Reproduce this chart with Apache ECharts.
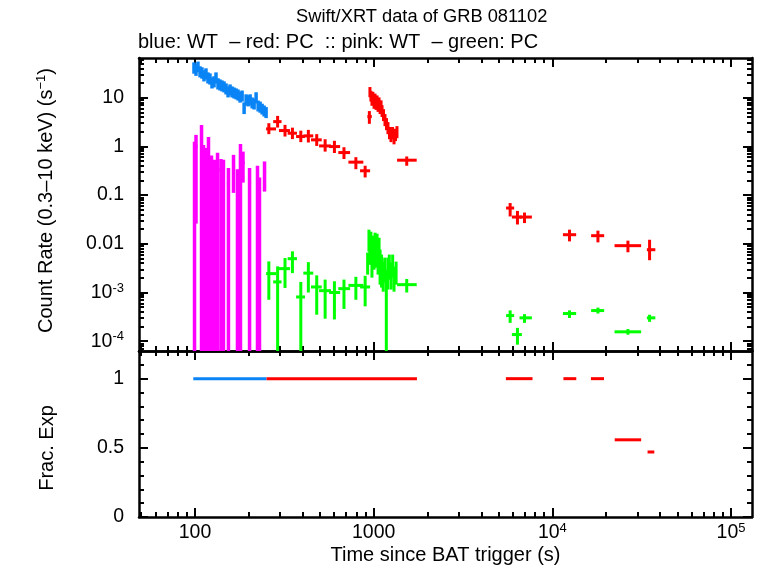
<!DOCTYPE html>
<html>
<head>
<meta charset="utf-8">
<title>Swift/XRT data of GRB 081102</title>
<script src="https://cdn.jsdelivr.net/npm/echarts@6.0.0/dist/echarts.min.js"></script>
<style>
html, body { margin: 0; padding: 0; background: #fff; }
#chart { width: 761px; height: 568px; }
</style>
</head>
<body>
<div id="chart"></div>
<script>
// rows: [t, tLo, tHi, rate, rateLo, rateHi]  (rateLo 0 = bar runs off the bottom)
var blueWT = [
    [98.7, 97.4, 100.0, 40.6, 31, 53],
    [101.3, 100.0, 102.6, 37, 28, 48],
    [103.9, 102.6, 105.3, 42.6, 33, 55],
    [106.7, 105.3, 108.0, 33.6, 26, 44],
    [109.4, 108.0, 110.8, 32.1, 24.5, 42],
    [112.3, 110.8, 113.7, 27.9, 21.5, 36.5],
    [115.2, 113.7, 116.7, 30.6, 23.5, 40],
    [118.2, 116.7, 119.7, 25.4, 19.5, 33],
    [121.3, 119.7, 122.9, 24.2, 18.5, 31.5],
    [124.5, 122.9, 126.1, 20, 15.4, 26],
    [127.8, 126.1, 129.4, 21, 16.2, 27.5],
    [131.1, 129.4, 132.8, 25.4, 19.5, 33],
    [134.5, 132.8, 136.2, 19.1, 14.7, 25],
    [138.0, 136.2, 139.8, 18.2, 14, 23.7],
    [141.6, 139.8, 143.5, 17.4, 13.4, 22.6],
    [145.4, 143.5, 147.3, 16.6, 12.8, 21.6],
    [149.2, 147.3, 151.1, 15.1, 11.6, 19.6],
    [153.1, 151.1, 155.1, 13.1, 10.1, 17],
    [157.1, 155.1, 159.1, 14.4, 11.1, 18.7],
    [161.2, 159.1, 163.3, 13.1, 10.1, 17],
    [165.4, 163.3, 167.6, 12.5, 9.6, 16.2],
    [169.8, 167.6, 172.0, 11.9, 9.2, 15.5],
    [174.2, 172.0, 176.5, 11.3, 8.7, 14.7],
    [178.8, 176.5, 181.1, 10.3, 7.9, 13.4],
    [183.5, 181.1, 185.9, 10.8, 8.3, 14],
    [188.3, 185.9, 190.7, 6.1, 4.6, 8.0],
    [193.2, 190.7, 195.7, 9.0, 6.9, 11.7],
    [198.3, 195.7, 200.9, 8.6, 6.6, 11.2],
    [203.5, 200.9, 206.1, 9.0, 6.9, 11.7],
    [208.8, 206.1, 211.5, 7.8, 6.0, 10.1],
    [214.2, 211.5, 217.0, 7.4, 5.7, 9.6],
    [219.8, 217.0, 222.7, 9.9, 7.6, 12.9],
    [225.6, 222.7, 228.5, 6.7, 5.2, 8.7],
    [231.5, 228.5, 234.5, 6.4, 4.9, 8.3],
    [237.5, 234.5, 240.6, 5.8, 4.5, 7.5],
    [243.7, 240.6, 246.8, 5.3, 4.1, 6.9],
    [250.0, 246.8, 253.2, 4.9, 3.8, 6.4]
];

var redPC = [
    [259, 250, 284, 2.28, 1.78, 2.99],
    [290, 274, 305, 3.22, 2.43, 4.22],
    [319, 295, 340, 2.11, 1.59, 2.76],
    [351, 330, 372, 1.86, 1.41, 2.42],
    [391, 368, 413, 1.59, 1.22, 2.10],
    [431, 404, 459, 1.64, 1.20, 2.18],
    [480, 446, 512, 1.36, 1.02, 1.78],
    [535, 495, 577, 1.02, 0.78, 1.40],
    [603, 563, 649, 0.99, 0.73, 1.30],
    [682, 634, 738, 0.746, 0.55, 0.96],
    [795, 722, 875, 0.474, 0.34, 0.60],
    [896, 839, 955, 0.315, 0.23, 0.40],
    [946, 922, 976, 4.08, 2.9, 5.3],
    [953, 947, 959, 13.1, 10.2, 16.5],
    [965, 959, 971, 10.8, 8.3, 13.8],
    [978, 971, 984, 8.97, 6.8, 11.6],
    [990, 984, 997, 10.3, 7.9, 13.2],
    [1005, 997, 1012, 7.79, 5.9, 10.1],
    [1018, 1012, 1025, 9.4, 7.2, 12.1],
    [1031, 1025, 1038, 7.43, 5.6, 9.7],
    [1045, 1038, 1052, 8.55, 6.5, 11.1],
    [1058, 1052, 1065, 6.76, 5.1, 8.8],
    [1072, 1065, 1079, 7.79, 5.9, 10.1],
    [1086, 1079, 1093, 6.15, 4.6, 8.0],
    [1100, 1093, 1107, 6.76, 5.1, 8.8],
    [1114, 1107, 1125, 5.34, 4.0, 7.0],
    [1135, 1125, 1146, 4.42, 3.3, 5.8],
    [1157, 1146, 1168, 3.49, 2.6, 4.6],
    [1180, 1168, 1191, 2.89, 2.15, 3.8],
    [1202, 1191, 1214, 2.39, 1.78, 3.15],
    [1226, 1214, 1238, 1.89, 1.4, 2.5],
    [1250, 1238, 1262, 1.64, 1.22, 2.2],
    [1275, 1262, 1288, 1.89, 1.4, 2.5],
    [1300, 1288, 1312, 1.49, 1.1, 2.0],
    [1325, 1312, 1338, 1.72, 1.28, 2.3],
    [1350, 1338, 1362, 1.98, 1.47, 2.6],
    [1531, 1352, 1741, 0.52, 0.40, 0.62],
    [5804, 5508, 6113, 0.0542, 0.0364, 0.0686],
    [6377, 5935, 6750, 0.0354, 0.0249, 0.0473],
    [6985, 6550, 7680, 0.0354, 0.0266, 0.0438],
    [12470, 11460, 13590, 0.01536, 0.0112, 0.0195],
    [17990, 16480, 19500, 0.01466, 0.0107, 0.0186],
    [26480, 22280, 31400, 0.00915, 0.0067, 0.0116],
    [35000, 33800, 37700, 0.00756, 0.0046, 0.0121]
];

var pinkWT = [
    [99.4, 97.5, 101.3, 0.90, 0, 1.25],
    [101.3, 99.4, 103.2, 0.99, 0.026, 1.72],
    [108.8, 106.7, 110.9, 1.72, 0, 2.75],
    [111.6, 109.4, 113.8, 0.85, 0, 1.07],
    [115.2, 113.0, 117.5, 0.77, 0, 0.93],
    [119.0, 116.7, 121.4, 0.85, 0, 1.56],
    [123.7, 121.3, 126.1, 0.42, 0, 0.65],
    [128.6, 126.1, 131.1, 0.33, 0, 0.53],
    [133.7, 131.1, 136.3, 0.48, 0, 0.74],
    [139.8, 137.1, 142.5, 0.33, 0, 0.55],
    [144.3, 141.5, 147.2, 0.30, 0, 0.53],
    [153.9, 150.9, 156.9, 0.17, 0, 0.36],
    [164.3, 161.1, 167.6, 0.385, 0.111, 0.67],
    [172.9, 169.5, 176.3, 0.17, 0, 0.34],
    [179.7, 176.2, 183.3, 0.44, 0, 1.12],
    [185.6, 182.0, 189.3, 0.46, 0.18, 0.78],
    [202.0, 198.1, 206.0, 0.18, 0, 0.36],
    [223.8, 219.5, 228.2, 0.20, 0, 0.40],
    [229.6, 225.1, 234.1, 0.145, 0, 0.23],
    [245.0, 240.2, 249.9, 0.30, 0.118, 0.49]
];

var greenPC = [
    [259, 250, 284, 0.00244, 0.00071, 0.00435],
    [290, 274, 305, 0.00165, 0, 0.00344],
    [319, 295, 340, 0.00309, 0.00124, 0.0051],
    [351, 330, 372, 0.00495, 0.0025, 0.0070],
    [391, 368, 413, 0.00081, 0, 0.00165],
    [431, 404, 459, 0.0025, 0.0010, 0.0042],
    [480, 446, 512, 0.0013, 0.00035, 0.00225],
    [535, 495, 577, 0.00109, 0.00029, 0.00184],
    [603, 563, 649, 0.0010, 0.00028, 0.0017],
    [682, 634, 738, 0.0012, 0.00046, 0.00184],
    [795, 722, 875, 0.0014, 0.00071, 0.0021],
    [896, 839, 955, 0.0013, 0.00052, 0.0022],
    [925, 919, 931, 0.0043, 0.00233, 0.0066],
    [941, 935, 947, 0.0121, 0.0069, 0.0195],
    [953, 947, 959, 0.0076, 0.0037, 0.0133],
    [965, 959, 971, 0.0105, 0.0052, 0.0177],
    [978, 971, 984, 0.0043, 0.00202, 0.0076],
    [990, 984, 997, 0.0083, 0.0043, 0.0147],
    [1005, 997, 1012, 0.0060, 0.00294, 0.0105],
    [1018, 1012, 1025, 0.0096, 0.0048, 0.0169],
    [1031, 1025, 1038, 0.0066, 0.00324, 0.0121],
    [1045, 1038, 1052, 0.0083, 0.0043, 0.0161],
    [1058, 1052, 1065, 0.0052, 0.00233, 0.0096],
    [1072, 1065, 1079, 0.0076, 0.00356, 0.0133],
    [1086, 1079, 1093, 0.0043, 0.00145, 0.0076],
    [1107, 1096, 1118, 0.00294, 0.00126, 0.0060],
    [1131, 1118, 1142, 0.00233, 0.00104, 0.0043],
    [1153, 1142, 1165, 0.00324, 0.0016, 0.0052],
    [1177, 1165, 1188, 0.0016, 0, 0.00294],
    [1200, 1188, 1211, 0.00294, 0.00115, 0.0052],
    [1223, 1211, 1237, 0.0043, 0.00184, 0.0060],
    [1252, 1237, 1264, 0.00233, 0.00115, 0.0041],
    [1277, 1264, 1288, 0.0039, 0.00202, 0.0060],
    [1300, 1288, 1317, 0.00184, 0.00104, 0.0034],
    [1335, 1317, 1352, 0.00268, 0.00145, 0.0043],
    [1531, 1352, 1741, 0.00145, 0.0010, 0.0019],
    [5804, 5508, 6113, 0.000336, 0.000238, 0.00043],
    [6377, 5935, 6750, 0.000137, 0.000085, 0.000188],
    [6985, 6550, 7680, 0.000302, 0.000238, 0.00036],
    [12470, 11460, 13590, 0.00037, 0.0003, 0.00043],
    [17990, 16480, 19500, 0.000426, 0.00037, 0.00049],
    [26480, 22280, 31400, 0.000156, 0.000136, 0.000178],
    [35000, 33800, 37700, 0.000302, 0.00025, 0.00035]
];

// fractional exposure: [tStart, tStop, frac]
var fracWT = [[97.8, 251.4, 1]];
var fracPC = [
    [251.4, 1746, 1],
    [5495, 7745, 1],
    [11530, 13610, 1],
    [16440, 19450, 1],
    [22330, 31400, 0.558],
    [34100, 37200, 0.47]
];

// axes
var X_MIN = 48.6, X_MAX = 1.31e5;
var Y_MIN = 6.3e-5, Y_MAX = 65.1;
var xMajor = [100, 1000, 10000, 100000];
var xMajorLabels = ['100', '1000', '10{s|4}', '10{s|5}'];
var yMajor = [0.0001, 0.001, 0.01, 0.1, 1, 10];
var yMajorLabels = ['10{s|-4}', '10{s|-3}', '0.01', '0.1', '1', '10'];
var fMajor = [0, 0.5, 1];
var fMajorLabels = ['0', '0.5', '1'];
var fMinor = [0.1, 0.2, 0.3, 0.4, 0.6, 0.7, 0.8, 0.9, 1.1];
var minorSteps = [2, 3, 4, 5, 6, 7, 8, 9];

function logMinors(decades, lo, hi) {
    var out = [];
    decades.forEach(function (d) {
        minorSteps.forEach(function (m) {
            var v = m * d;
            if (v > lo && v < hi) out.push(v);
        });
    });
    return out;
}
var xMinor = logMinors([10, 100, 1000, 10000, 100000], X_MIN, X_MAX);
var yMinor = logMinors([0.00001, 0.0001, 0.001, 0.01, 0.1, 1, 10], Y_MIN, Y_MAX);

var FONT = 'Liberation Sans';
var LBL = 19.5;
var supRich = { s: { fontSize: 13, fontFamily: FONT, color: '#000', verticalAlign: 'top', lineHeight: 13 } };

function pickLabel(vals, labels, log) {
    return function (v) {
        for (var i = 0; i < vals.length; i++) {
            var a = log ? Math.log10(v) : v, b = log ? Math.log10(vals[i]) : vals[i];
            if (Math.abs(a - b) < 1e-6) return labels[i];
        }
        return '';
    };
}

function mkAxis(type, grid, pos, min, max, ticks, len, line, label) {
    return {
        type: type, gridIndex: grid, position: pos, min: min, max: max,
        axisLine: { show: line, onZero: false, lineStyle: { color: '#000', width: 2.5 } },
        axisTick: { show: true, inside: true, length: len, customValues: ticks, lineStyle: { color: '#000', width: 2 } },
        axisLabel: label || { show: false },
        splitLine: { show: false },
        minorTick: { show: false },
        minorSplitLine: { show: false }
    };
}

var xAxes = [
    mkAxis('log', 0, 'bottom', X_MIN, X_MAX, xMajor, 9, true),
    mkAxis('log', 0, 'bottom', X_MIN, X_MAX, xMinor, 5, false),
    mkAxis('log', 0, 'top', X_MIN, X_MAX, xMajor, 9, true),
    mkAxis('log', 0, 'top', X_MIN, X_MAX, xMinor, 5, false),
    mkAxis('log', 1, 'bottom', X_MIN, X_MAX, xMajor, 9, true, {
        show: true, customValues: xMajor, margin: 5, fontSize: LBL, fontFamily: FONT, color: '#000',
        lineHeight: 22, rich: supRich, formatter: pickLabel(xMajor, xMajorLabels, true)
    }),
    mkAxis('log', 1, 'bottom', X_MIN, X_MAX, xMinor, 5, false),
    mkAxis('log', 1, 'top', X_MIN, X_MAX, xMajor, 9, true),
    mkAxis('log', 1, 'top', X_MIN, X_MAX, xMinor, 5, false)
];
xAxes[4].name = 'Time since BAT trigger (s)';
xAxes[4].nameLocation = 'middle';
xAxes[4].nameGap = 28;
xAxes[4].nameTextStyle = { fontSize: 20, fontFamily: FONT, color: '#000' };

var yAxes = [
    mkAxis('log', 0, 'left', Y_MIN, Y_MAX, yMajor, 9, true, {
        show: true, customValues: yMajor, margin: 15, fontSize: LBL, fontFamily: FONT, color: '#000',
        lineHeight: 22, rich: supRich, formatter: pickLabel(yMajor, yMajorLabels, true)
    }),
    mkAxis('log', 0, 'left', Y_MIN, Y_MAX, yMinor, 5, false),
    mkAxis('log', 0, 'right', Y_MIN, Y_MAX, yMajor, 9, true),
    mkAxis('log', 0, 'right', Y_MIN, Y_MAX, yMinor, 5, false),
    mkAxis('value', 1, 'left', 0, 1.2, fMajor, 9, true, {
        show: true, customValues: fMajor, margin: 15, fontSize: LBL, fontFamily: FONT, color: '#000',
        formatter: pickLabel(fMajor, fMajorLabels, false)
    }),
    mkAxis('value', 1, 'left', 0, 1.2, fMinor, 5, false),
    mkAxis('value', 1, 'right', 0, 1.2, fMajor, 9, true),
    mkAxis('value', 1, 'right', 0, 1.2, fMinor, 5, false)
];
yAxes[0].name = 'Count Rate (0.3\u201310 keV) (s{s|\u22121})';
yAxes[0].nameLocation = 'middle';
yAxes[0].nameGap = 82;
yAxes[0].nameRotate = 90;
yAxes[0].nameTextStyle = { fontSize: 20, fontFamily: FONT, color: '#000', lineHeight: 22, rich: supRich, padding: [0, 0, 0, 8] };
yAxes[4].name = 'Frac. Exp';
yAxes[4].nameLocation = 'middle';
yAxes[4].nameGap = 82;
yAxes[4].nameRotate = 90;
yAxes[4].nameTextStyle = { fontSize: 20, fontFamily: FONT, color: '#000', padding: [0, 28, 0, 0] };

function errorBars(color, width) {
    return function (params, api) {
        var cs = params.coordSys;
        var top = cs.y, bottom = cs.y + cs.height;
        var t = api.value(0), r = api.value(3), lo = api.value(4), hi = api.value(5);
        var p = api.coord([t, r]);
        var pl = api.coord([api.value(1), r]);
        var pr = api.coord([api.value(2), r]);
        var yHi = Math.max(api.coord([t, hi])[1], top);
        var yLo = lo > 0 ? Math.min(api.coord([t, lo])[1], bottom) : bottom;
        var st = { stroke: color, lineWidth: width };
        return {
            type: 'group',
            children: [
                { type: 'line', shape: { x1: p[0], y1: yHi, x2: p[0], y2: yLo }, style: st },
                { type: 'line', shape: { x1: pl[0], y1: p[1], x2: pr[0], y2: p[1] }, style: st }
            ]
        };
    };
}

function expBars(color) {
    return function (params, api) {
        var a = api.coord([api.value(0), api.value(2)]);
        var b = api.coord([api.value(1), api.value(2)]);
        return { type: 'line', shape: { x1: a[0], y1: a[1], x2: b[0], y2: b[1] }, style: { stroke: color, lineWidth: 3 } };
    };
}

function rateSeries(data, color, width) {
    return { type: 'custom', xAxisIndex: 0, yAxisIndex: 0, data: data, encode: { x: 0, y: 3 },
             renderItem: errorBars(color, width), silent: true };
}
function expSeries(data, color) {
    return { type: 'custom', xAxisIndex: 4, yAxisIndex: 4, data: data, encode: { x: 0, y: 2 },
             renderItem: expBars(color), silent: true };
}

var chart = echarts.init(document.getElementById('chart'));
chart.setOption({
    animation: false,
    backgroundColor: '#fff',
    textStyle: { fontFamily: FONT },
    title: [
        { text: 'Swift/XRT data of GRB 081102', left: 291, top: 3,
          textStyle: { fontSize: 18.3, fontWeight: 'normal', fontFamily: FONT, color: '#000' } },
        { text: 'blue: WT  \u2013 red: PC  :: pink: WT  \u2013 green: PC', left: 133, top: 27,
          textStyle: { fontSize: 20, fontWeight: 'normal', fontFamily: FONT, color: '#000' } }
    ],
    grid: [
        { left: 139, top: 58, width: 613, height: 293 },
        { left: 139, top: 351, width: 613, height: 166 }
    ],
    xAxis: xAxes,
    yAxis: yAxes,
    series: [
        rateSeries(blueWT, '#0a84f5', 3.5),
        rateSeries(redPC, '#ff0000', 3),
        rateSeries(pinkWT, '#ff00ff', 3.5),
        rateSeries(greenPC, '#00ff00', 3),
        expSeries(fracWT, '#0a84f5'),
        expSeries(fracPC, '#ff0000')
    ]
});
</script>
</body>
</html>
